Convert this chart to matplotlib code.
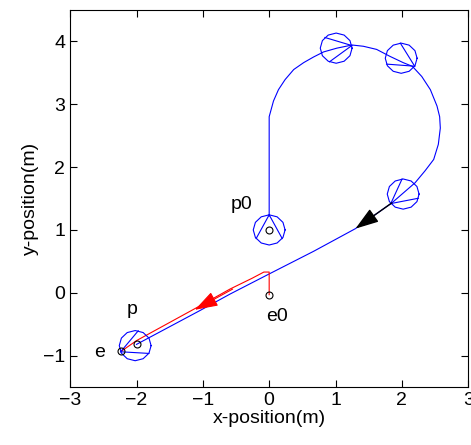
import numpy as np
import matplotlib
matplotlib.use("Agg")
import matplotlib.pyplot as plt

plt.rcParams['font.family'] = ['Liberation Sans', 'DejaVu Sans']

# pursuer path (blue)
px = [0, 0, 0.065, 0.14, 0.24, 0.37, 0.52, 0.67, 0.82, 1.02, 1.25, 1.42, 1.62, 1.82,
      2.02, 2.16, 2.30, 2.43, 2.53, 2.57, 2.58, 2.55, 2.48, 2.35, 2.20, 1.85,
      1.30, 0.67, 0.0, -0.59, -1.04, -2.0]
py = [1.22, 2.80, 3.05, 3.23, 3.39, 3.55, 3.66, 3.75, 3.83, 3.89, 3.94, 3.92, 3.87, 3.76,
      3.66, 3.60, 3.44, 3.23, 2.97, 2.80, 2.62, 2.36, 2.12, 1.94, 1.75, 1.43,
      1.02, 0.66, 0.30, -0.02, -0.28, -0.82]

# evader path (red)
ex = [0, 0, -0.08, -0.26, -0.59, -1.10, -2.0, -2.23]
ey = [-0.03, 0.33, 0.33, 0.23, 0.06, -0.24, -0.76, -0.93]

# vehicle outlines: centre x, centre y, heading (deg)
veh_x = [0, 1.01, 1.99, 2.02, -2.02]
veh_y = [1.0, 3.89, 3.73, 1.57, -0.84]
veh_h = [90, 10, -32, 219, 204]
veh_r = 0.24

# start / end markers
mark_x = [0, 0, -2.0, -2.23]
mark_y = [1.0, -0.03, -0.82, -0.93]
lab = ['p0', 'e0', 'p', 'e']
lab_x = [-0.41, 0.12, -2.07, -2.55]
lab_y = [1.41, -0.38, -0.27, -0.95]

fig = plt.figure(figsize=(4.71, 4.45), dpi=100)
ax = fig.add_axes([0.149, 0.13, 0.845, 0.848])

ax.plot(px, py, color='blue', lw=0.8)
ax.plot(ex, ey, color='red', lw=0.8)

t = np.linspace(0, 2 * np.pi, 13)
for cx, cy, h in zip(veh_x, veh_y, veh_h):
    ax.plot(cx + veh_r * np.cos(t), cy + veh_r * np.sin(t), color='blue', lw=0.8)
    a = np.deg2rad(h)
    nx, ny = cx + veh_r * np.cos(a), cy + veh_r * np.sin(a)
    for d in (125, -125):
        b = a + np.deg2rad(d)
        ax.plot([nx, cx + veh_r * np.cos(b)], [ny, cy + veh_r * np.sin(b)],
                color='blue', lw=0.8)

ax.plot(mark_x, mark_y, 'o', mfc='none', mec='black', ms=5, mew=0.8)
for s, x, y in zip(lab, lab_x, lab_y):
    ax.text(x, y, s, fontsize=14, ha='center', va='center')

# direction arrows
head = '-|>,head_length=0.9,head_width=0.3'
ax.annotate('', xy=(1.30, 1.02), xytext=(1.85, 1.43),
            arrowprops=dict(arrowstyle=head, color='black', lw=1.0,
                            mutation_scale=16, shrinkA=0, shrinkB=0))
ax.annotate('', xy=(-1.12, -0.27), xytext=(-0.55, 0.06),
            arrowprops=dict(arrowstyle=head, color='red', lw=0.8,
                            mutation_scale=16, shrinkA=0, shrinkB=0))

ax.set_xlim(-3, 3)
ax.set_ylim(-1.5, 4.5)
ax.set_xticks([-3, -2, -1, 0, 1, 2, 3])
ax.set_yticks([-1, 0, 1, 2, 3, 4])
ax.tick_params(direction='in', top=True, right=True, labelsize=14, length=5)
ax.set_xlabel('x-position(m)', fontsize=14, labelpad=1)
ax.set_ylabel('y-position(m)', fontsize=14, labelpad=3)

fig.savefig('out.png', dpi=100)
